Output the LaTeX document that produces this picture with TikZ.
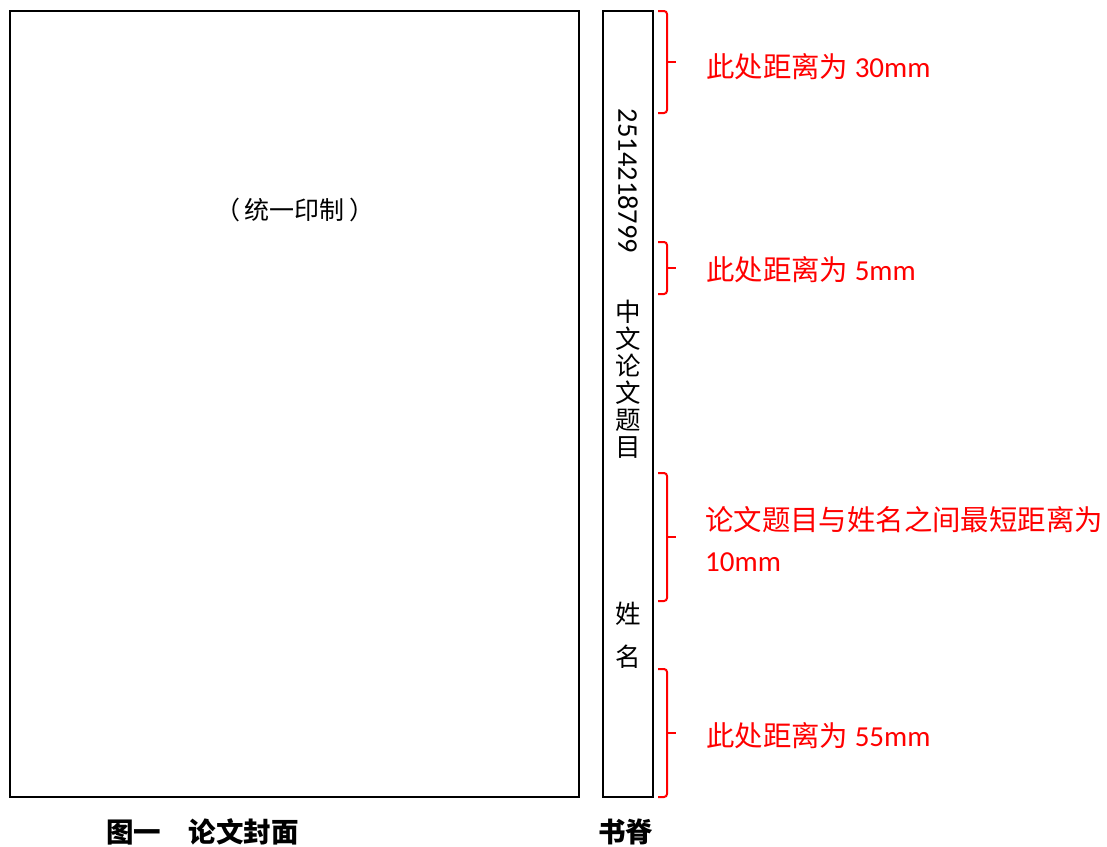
\documentclass[tikz,border=0pt]{standalone}
\usepackage{fontspec}
\setmainfont{Carlito}
\newfontfamily\cjk{Noto Sans CJK SC}
\newcommand{\redcjk}[1]{{\cjk\fontsize{28.4}{41}\selectfont #1}}
\begin{document}
\begin{tikzpicture}[x=1pt,y=-1pt,
  box/.style={draw=black,line width=2pt,inner sep=0pt},
  bracepath/.style={draw=red,line width=2pt,rounded corners=3pt},
  note/.style={text=red,anchor=west,inner sep=0pt,align=left,font=\fontsize{29}{41}\selectfont},
  caption/.style={inner sep=0pt,font=\cjk\bfseries\fontsize{27.5}{27.5}\selectfont}]
\useasboundingbox (0,0) rectangle (1107,846);
\node[box,minimum width=569pt,minimum height=786pt] (cover) at (294.5,404) {};
\node[box,minimum width=50pt,minimum height=786pt] (spine) at (628,404) {};
\node[inner sep=0pt,font=\cjk\fontsize{25}{25}\selectfont] (print) at (295,210) {（\,统一印制\,）};
\node[inner sep=0pt,rotate=-90,font=\fontsize{28.5}{28.5}\selectfont] (num) at (628,181) {2514218799};
\node[inner sep=0pt,align=center,font=\cjk\fontsize{25.5}{27}\selectfont] (title) at (628,379) {中\\文\\论\\文\\题\\目};
\node[inner sep=0pt,align=center,font=\cjk\fontsize{25.5}{43}\selectfont] (name) at (628,635) {姓\\名};
\foreach \t/\b/\n in {11/113/a,242/294/b,473/601/c,669/797/d}{
  \coordinate (\n top) at (658,\t);
  \coordinate (\n bot) at (658,\b);
  \coordinate (\n mid) at (667,{(\t+\b)/2});
  \coordinate (\n tip) at (676,{(\t+\b)/2});
  \draw[bracepath] (\n top) -- ++(9,0) |- (\n bot);
  \draw[draw=red,line width=2pt] (\n mid) -- (\n tip);
}
\node[note] (la) at (706,67) {\redcjk{此处距离为} 30mm};
\node[note] (lb) at (706,270) {\redcjk{此处距离为} 5mm};
\node[note] (lc) at (705,539) {\redcjk{论文题目与姓名之间最短距离为}\\10mm};
\node[note] (ld) at (706,736) {\redcjk{此处距离为} 55mm};
\node[caption,anchor=west] (cap1) at (106,832) {图一　论文封面};
\node[caption] (cap2) at (625.5,832) {书脊};
\end{tikzpicture}
\end{document}
